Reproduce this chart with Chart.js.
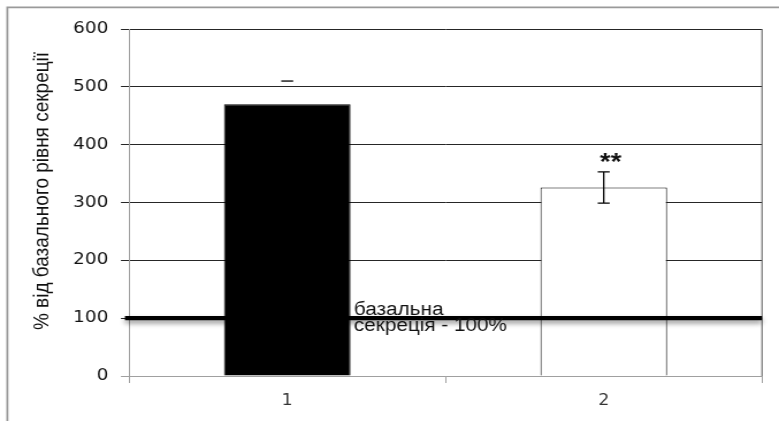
<!DOCTYPE html>
<html lang="uk">
<head>
<meta charset="utf-8">
<script src="https://cdn.jsdelivr.net/npm/chart.js@4"></script>
<style>
  html, body { margin: 0; padding: 0; background: #fff; overflow: hidden; }
  #wrap { width: 779px; height: 421px; overflow: hidden; }
  /* the chart is laid out on a narrower canvas and widened horizontally */
  #chart { display: block; transform-origin: 0 0; transform: scaleX(1.15066); }
</style>
</head>
<body>
<div id="wrap"><canvas id="chart" width="677" height="421"></canvas></div>
<script>
// ---- data ----
const categories = ['1', '2'];
const values = [470, 326];
const errors = [40, 27];
const showErrorStem = [false, true];
const significance = ['', '**'];
const yTicks = [0, 100, 200, 300, 400, 500, 600];
const baselineValue = 100;
const baselineLabel = ['базальна', 'секреція - 100%'];
const yTitle = '% від базального рівня секреції';

// ---- styles ----
const barFill = ['#000000', '#ffffff'];
const gridDark = '#262626';
const axisGrey = '#a0a0a0';

// outer frame (top and left edges)
const framePlugin = {
  id: 'frame',
  beforeDraw(chart) {
    const ctx = chart.ctx;
    ctx.save();
    ctx.strokeStyle = '#9a9a9a';
    ctx.lineWidth = 1.8;
    ctx.beginPath();
    ctx.moveTo(6.4, chart.height);
    ctx.lineTo(6.4, 7.3);
    ctx.lineTo(chart.width, 7.3);
    ctx.stroke();
    ctx.restore();
  }
};

// right border of the plot area
const rightBorderPlugin = {
  id: 'rightBorder',
  beforeDatasetsDraw(chart) {
    const { ctx, chartArea } = chart;
    ctx.save();
    ctx.strokeStyle = '#555';
    ctx.lineWidth = 1;
    ctx.beginPath();
    ctx.moveTo(chartArea.right, chartArea.top);
    ctx.lineTo(chartArea.right, chartArea.bottom);
    ctx.stroke();
    ctx.restore();
  }
};

// error bars, significance marks, baseline line and its label
const overlayPlugin = {
  id: 'overlay',
  afterDatasetsDraw(chart) {
    const { ctx, chartArea } = chart;
    const y = chart.scales.y;
    const meta = chart.getDatasetMeta(0);

    ctx.save();
    ctx.strokeStyle = '#000';
    ctx.lineWidth = 1.3;
    meta.data.forEach((bar, i) => {
      const x = bar.x;
      const top = y.getPixelForValue(values[i] + errors[i]);
      const bot = y.getPixelForValue(values[i] - errors[i]);
      const hw = 5.2;
      ctx.beginPath();
      ctx.moveTo(x - hw, top); ctx.lineTo(x + hw, top);
      if (showErrorStem[i]) {
        ctx.moveTo(x, top); ctx.lineTo(x, bot);
        ctx.moveTo(x - hw, bot); ctx.lineTo(x + hw, bot);
      }
      ctx.stroke();

      if (significance[i]) {
        ctx.fillStyle = '#111';
        ctx.font = 'bold 24px "Liberation Sans", Arial, sans-serif';
        ctx.textAlign = 'center';
        ctx.textBaseline = 'alphabetic';
        ctx.fillText(significance[i], x + 6, top - 2);
      }
    });
    ctx.restore();

    // baseline secretion line
    const yb = y.getPixelForValue(baselineValue);
    ctx.save();
    ctx.strokeStyle = '#000';
    ctx.lineWidth = 4.3;
    ctx.shadowColor = 'rgba(0,0,0,0.45)';
    ctx.shadowBlur = 5;
    ctx.shadowOffsetY = 3;
    ctx.beginPath();
    ctx.moveTo(chartArea.left - 3.5, yb);
    ctx.lineTo(chartArea.right, yb);
    ctx.stroke();
    ctx.restore();

    ctx.save();
    ctx.fillStyle = '#111';
    ctx.font = '18px "Liberation Sans", Arial, sans-serif';
    ctx.textAlign = 'left';
    ctx.textBaseline = 'alphabetic';
    ctx.fillText(baselineLabel[0], 307.6, yb - 3);
    ctx.fillText(baselineLabel[1], 307.6, yb + 13);
    ctx.restore();
  },
  afterDraw(chart) {
    // rotated y-axis title
    const ctx = chart.ctx;
    ctx.save();
    ctx.translate(41.7, 191);
    ctx.rotate(-Math.PI / 2);
    ctx.fillStyle = '#111';
    ctx.font = '19px "Liberation Sans", Arial, sans-serif';
    ctx.textAlign = 'center';
    ctx.textBaseline = 'alphabetic';
    ctx.fillText(yTitle, 0, 0);
    ctx.restore();
  }
};

new Chart(document.getElementById('chart'), {
  type: 'bar',
  data: {
    labels: categories,
    datasets: [{
      data: values,
      backgroundColor: barFill,
      borderColor: '#000',
      borderWidth: 1,
      barPercentage: 0.4,
      categoryPercentage: 1
    }]
  },
  options: {
    responsive: false,
    animation: false,
    layout: { padding: { left: 0, right: 14.8, top: 29, bottom: 0 } },
    plugins: { legend: { display: false }, tooltip: { enabled: false } },
    scales: {
      x: {
        offset: true,
        grid: { offset: true, drawOnChartArea: false, drawTicks: true, tickLength: 7, color: axisGrey },
        border: { color: axisGrey, width: 1 },
        ticks: { color: '#333', padding: 9, font: { family: '"DejaVu Sans", Verdana, sans-serif', size: 15 } },
        afterFit(s) { s.height = 45; }
      },
      y: {
        min: 0,
        max: 600,
        afterBuildTicks(s) { s.ticks = yTicks.map(v => ({ value: v })); },
        grid: {
          color: ctx => (ctx.tick && ctx.tick.value === 0 ? axisGrey : gridDark),
          lineWidth: 1,
          tickLength: 7
        },
        border: { color: axisGrey, width: 1 },
        ticks: { color: '#111', padding: 11, font: { family: '"DejaVu Sans", Verdana, sans-serif', size: 16 } },
        afterFit(s) { s.width = 112.1; }
      }
    }
  },
  plugins: [framePlugin, rightBorderPlugin, overlayPlugin]
});
</script>
</body>
</html>
